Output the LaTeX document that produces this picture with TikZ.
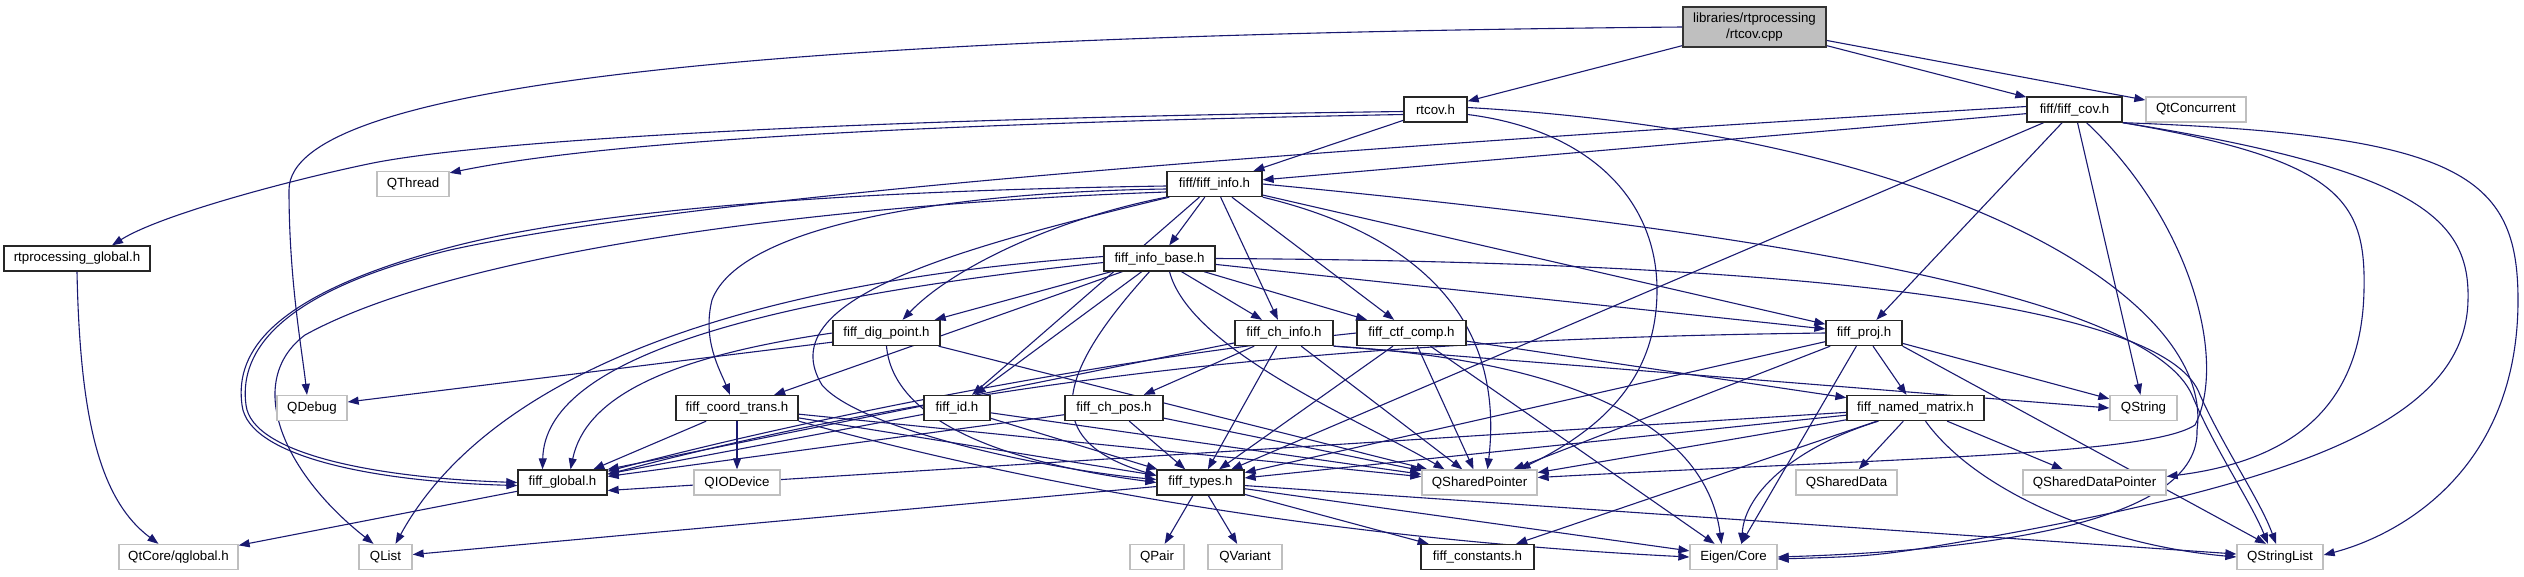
\documentclass[tikz,border=0pt]{standalone}
\usepackage{fontspec}
\setmainfont{Liberation Sans}
\usetikzlibrary{arrows.meta,backgrounds}
\definecolor{edgeblue}{HTML}{191970}
\definecolor{lightgrey}{HTML}{BFBFBF}
\tikzset{
  boxbase/.style={rectangle, inner sep=0pt, line width=1.3pt, fill=white, text=black,
    font=\fontsize{13.3pt}{15.5pt}\selectfont, minimum height=25pt},
  docnode/.style={boxbase, draw=black!85},
  extnode/.style={boxbase, draw=lightgrey},
  srcnode/.style={boxbase, draw=black!80, fill=lightgrey, align=center, minimum height=40pt},
  dep/.style={draw=edgeblue, line width=1.1pt, -{Triangle[length=11pt,width=8pt]}},
}
\begin{document}
\begin{tikzpicture}[x=1pt,y=-1pt]
\useasboundingbox (0,0) rectangle (2524,576);
% nodes
\node[srcnode, minimum width=143pt] (cpp) at (1754.5,27) {libraries/rtprocessing\\/rtcov.cpp};
\node[docnode, minimum width=63pt] (rtcovh) at (1435.5,109.5) {rtcov.h};
\node[docnode, minimum width=95pt] (cov) at (2074.5,109.5) {fiff/fiff\_cov.h};
\node[extnode, minimum width=100pt] (qtconc) at (2196,109.5) {QtConcurrent};
\node[extnode, minimum width=72pt] (qthread) at (413,184) {QThread};
\node[docnode, minimum width=95pt] (info) at (1214.5,184) {fiff/fiff\_info.h};
\node[docnode, minimum width=146pt] (rtpg) at (77,258.5) {rtprocessing\_global.h};
\node[docnode, minimum width=111pt] (infobase) at (1159.5,258.5) {fiff\_info\_base.h};
\node[docnode, minimum width=107pt] (digpoint) at (886.5,333) {fiff\_dig\_point.h};
\node[docnode, minimum width=98pt] (chinfo) at (1284,333) {fiff\_ch\_info.h};
\node[docnode, minimum width=109pt] (ctf) at (1411.5,333) {fiff\_ctf\_comp.h};
\node[docnode, minimum width=76pt] (proj) at (1864,333) {fiff\_proj.h};
\node[extnode, minimum width=70pt] (qdebug) at (312,408) {QDebug};
\node[docnode, minimum width=122pt] (coord) at (737,408) {fiff\_coord\_trans.h};
\node[docnode, minimum width=66pt] (id) at (957,408) {fiff\_id.h};
\node[docnode, minimum width=98pt] (chpos) at (1114,408) {fiff\_ch\_pos.h};
\node[docnode, minimum width=137pt] (named) at (1915.5,408) {fiff\_named\_matrix.h};
\node[extnode, minimum width=67pt] (qstring) at (2143.5,408) {QString};
\node[docnode, minimum width=89pt] (global) at (562.5,482.5) {fiff\_global.h};
\node[extnode, minimum width=86pt] (qiodev) at (737,482.5) {QIODevice};
\node[docnode, minimum width=87pt] (types) at (1200.5,482.5) {fiff\_types.h};
\node[extnode, minimum width=115pt] (qsp) at (1479.5,482.5) {QSharedPointer};
\node[extnode, minimum width=101pt] (qsd) at (1846.5,482.5) {QSharedData};
\node[extnode, minimum width=143pt] (qsdp) at (2094.5,482.5) {QSharedDataPointer};
\node[extnode, minimum width=119pt] (qglobal) at (178.5,557) {QtCore/qglobal.h};
\node[extnode, minimum width=53pt] (qlist) at (385.5,557) {QList};
\node[extnode, minimum width=54pt] (qpair) at (1157,557) {QPair};
\node[extnode, minimum width=74pt] (qvariant) at (1245,557) {QVariant};
\node[docnode, minimum width=113pt] (const) at (1477.5,557) {fiff\_constants.h};
\node[extnode, minimum width=87pt] (eigen) at (1733.5,557) {Eigen/Core};
\node[extnode, minimum width=86pt] (qstrlist) at (2280,557) {QStringList};

\begin{scope}[on background layer]
% rtcov.cpp
\draw[dep] (cpp) -- (rtcovh);
\draw[dep] (cpp) -- (cov);
\draw[dep] (cpp) -- (qtconc);
\draw[dep] (cpp.west) .. controls (800,35) and (289,80) .. (289,190) .. controls (289,280) and (302,350) .. ([xshift=-5pt]qdebug.north);
% rtcov.h
\draw[dep] ([yshift=-2pt]rtcovh.west) .. controls (900,118) and (500,138) .. (373,163) .. controls (290,180) and (160,215) .. ([xshift=35pt]rtpg.north);
\draw[dep] ([yshift=-5pt]rtcovh.west) .. controls (900,124) and (600,142) .. ([yshift=-2pt]qthread.north east);
\draw[dep] (rtcovh) -- (info);
\draw[dep] ([yshift=-5pt]rtcovh.east) .. controls (1590,130) and (1657,200) .. (1657,290) .. controls (1657,380) and (1600,430) .. ([xshift=40pt]qsp.north);
\draw[dep] ([yshift=2pt]rtcovh.east) .. controls (1950,135) and (2215,300) .. (2197,430) .. controls (2200,520) and (2000,550) .. (eigen.east);
% fiff_cov.h
\draw[dep] (cov) -- (info);
\draw[dep] ([yshift=3pt]cov.west) .. controls (1300,150) and (700,195) .. (450,250) .. controls (265,295) and (240,360) .. (246,405) .. controls (252,455) and (380,478) .. (global.west);
\draw[dep] (cov) -- (types);
\draw[dep] (cov) -- (proj);
\draw[dep] (cov) -- (qstring);
\draw[dep] ([xshift=12pt]cov.south) .. controls (2190,220) and (2228,360) .. (2195,425) .. controls (2150,455) and (1900,458) .. ([yshift=5pt]qsp.east);
\draw[dep] (cov.south east) .. controls (2340,160) and (2366,200) .. (2364,290) .. controls (2362,400) and (2300,460) .. ([yshift=6pt]qsdp.east);
\draw[dep] (cov.south east) .. controls (2420,170) and (2470,220) .. (2468,300) .. controls (2466,420) and (2300,480) .. (2000,535) .. controls (1880,556) .. ([yshift=-2pt]eigen.east);
\draw[dep] (cov.south east) .. controls (2460,135) and (2518,175) .. (2518,300) .. controls (2518,470) and (2400,535) .. ([yshift=2pt]qstrlist.east);
% fiff_info.h
\draw[dep] (info) -- (infobase);
\draw[dep] (info.south west) .. controls (1050,220) and (950,270) .. ([xshift=16pt]digpoint.north);
\draw[dep] (info) -- (chinfo);
\draw[dep] (info) -- (ctf);
\draw[dep] (info) -- (proj);
\draw[dep] ([yshift=-5pt]info.west) .. controls (950,192) and (740,225) .. (712,300) .. controls (702,340) and (720,370) .. ([xshift=-7pt]coord.north);
\draw[dep] (info) -- (id);
\draw[dep] ([xshift=3pt]info.south west) .. controls (950,250) and (770,300) .. (822,385) .. controls (860,430) and (1050,470) .. ([yshift=3pt]types.west);
\draw[dep] ([yshift=-2pt]info.west) .. controls (900,190) and (600,205) .. (440,250) .. controls (258,300) and (236,360) .. (242,405) .. controls (248,458) and (380,482) .. ([yshift=-3pt]global.west);
\draw[dep] ([yshift=-8pt]info.west) .. controls (800,205) and (450,255) .. (305,335) .. controls (245,380) and (280,470) .. ([xshift=-12pt]qlist.north);
\draw[dep] (info.south east) .. controls (1420,235) and (1505,320) .. ([xshift=8pt]qsp.north);
\draw[dep] (info.east) .. controls (1800,235) and (2150,300) .. (2192,395) .. controls (2215,450) and (2250,500) .. ([xshift=-12pt]qstrlist.north);
% fiff_info_base.h
\draw[dep] (infobase) -- (digpoint);
\draw[dep] (infobase) -- (chinfo);
\draw[dep] (infobase) -- (ctf);
\draw[dep] (infobase) -- (proj);
\draw[dep] (infobase) -- (coord);
\draw[dep] (infobase) -- (id);
\draw[dep] ([xshift=-10pt]infobase.south) .. controls (1060,370) and (1035,440) .. ([yshift=7pt]types.west);
\draw[dep] ([xshift=10pt]infobase.south) .. controls (1190,350) and (1360,420) .. ([xshift=-35pt]qsp.north);
\draw[dep] ([yshift=-4pt]infobase.west) .. controls (750,300) and (545,360) .. ([xshift=-20pt]global.north);
\draw[dep] ([yshift=2pt]infobase.west) .. controls (700,285) and (480,390) .. ([xshift=10pt]qlist.north);
\draw[dep] (infobase.east) .. controls (1850,262) and (2170,310) .. (2200,395) .. controls (2225,450) and (2260,500) .. ([xshift=-4pt]qstrlist.north);
% fiff_dig_point.h
\draw[dep] (digpoint.west) .. controls (660,358) and (585,400) .. ([xshift=8pt]global.north);
\draw[dep] (digpoint.south) .. controls (893,420) and (1000,462) .. (types.west);
\draw[dep] (digpoint) -- (qsp);
\draw[dep] ([yshift=4pt]digpoint.south west) -- ([yshift=6pt]qdebug.east);
% fiff_ch_info.h
\draw[dep] (chinfo) -- (chpos);
\draw[dep] (chinfo) -- (global.north east);
\draw[dep] (chinfo) -- (types);
\draw[dep] (chinfo) -- (qsp);
\draw[dep] (chinfo.south east) .. controls (1560,360) and (1705,420) .. ([xshift=-12pt]eigen.north);
\draw[dep] (chinfo.south east) -- (qstring.west);
% fiff_ctf_comp.h
\draw[dep] (ctf) -- (named);
\draw[dep] (ctf.west) .. controls (1100,360) and (800,420) .. ([yshift=-2pt]global.north east);
\draw[dep] (ctf) -- (types);
\draw[dep] (ctf) -- (qsp);
\draw[dep] (ctf) -- (eigen);
% fiff_proj.h
\draw[dep] (proj) -- (named);
\draw[dep] (proj.west) .. controls (1400,338) and (1000,370) .. ([yshift=-5pt]global.north east);
\draw[dep] (proj) -- (types);
\draw[dep] (proj) -- (qsp);
\draw[dep] (proj) -- (qstring);
\draw[dep] (proj.south east) -- ([xshift=-14pt]qstrlist.north);
\draw[dep] (proj) -- (eigen);
% fiff_coord_trans.h
\draw[dep] (coord) -- (qiodev);
\draw[dep] (coord) -- (global);
\draw[dep] (coord) -- (types);
\draw[dep] (coord) -- (qsp);
\draw[dep] (coord.south east) .. controls (1050,490) and (1350,540) .. (eigen.west);
% fiff_id.h
\draw[dep] (id) -- (global);
\draw[dep] (id) -- (types);
\draw[dep] (id) -- (qsp);
% fiff_ch_pos.h
\draw[dep] (chpos) -- (global);
\draw[dep] (chpos) -- (types);
\draw[dep] (chpos) -- (qsp);
% fiff_named_matrix.h
\draw[dep] (named) -- ([yshift=-8pt]global.east);
\draw[dep] (named) -- (types);
\draw[dep] (named) -- (qsp);
\draw[dep] (named) -- (const);
\draw[dep] ([xshift=-37pt]named.south) .. controls (1800,445) and (1745,490) .. ([xshift=8pt]eigen.north);
\draw[dep] (named) -- (qsd);
\draw[dep] (named) -- (qsdp);
\draw[dep] ([xshift=10pt]named.south) .. controls (1975,490) and (2100,545) .. (qstrlist.west);
% fiff_types.h
\draw[dep] (types) -- (const);
\draw[dep] (types) -- (qlist);
\draw[dep] (types) -- (qpair);
\draw[dep] (types) -- (qvariant);
\draw[dep] (types) -- (eigen);
\draw[dep] (types) -- (qstrlist);
% globals
\draw[dep] (global) -- (qglobal);
\draw[dep] (rtpg.south) .. controls (80,420) and (100,500) .. ([xshift=-20pt]qglobal.north);
\end{scope}
\end{tikzpicture}
\end{document}
